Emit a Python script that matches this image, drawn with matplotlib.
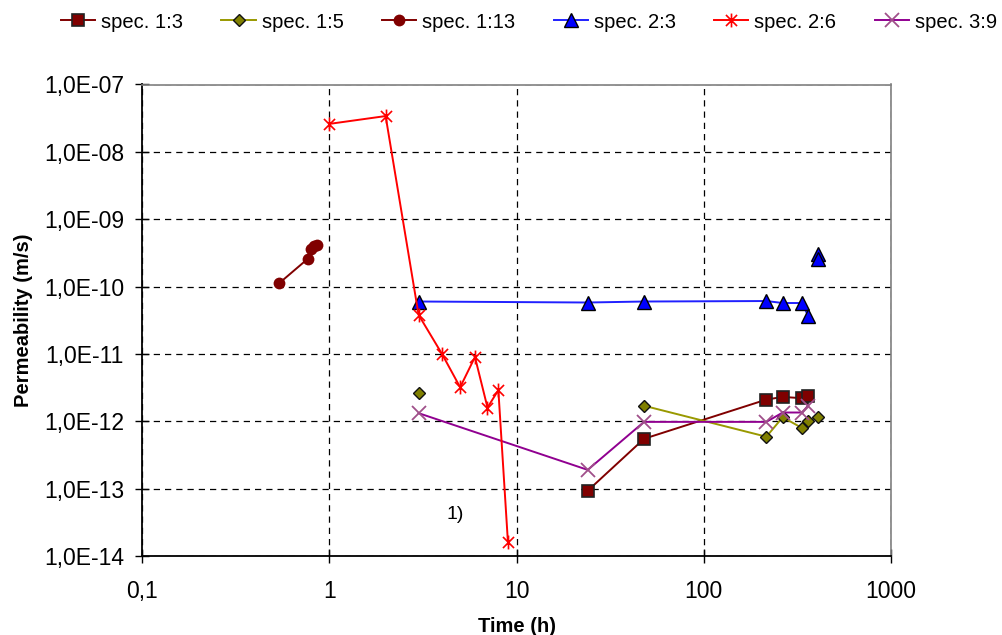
import matplotlib
matplotlib.use("Agg")
import matplotlib.pyplot as plt
import numpy as np
from matplotlib.path import Path
from matplotlib.ticker import FixedLocator, FixedFormatter, NullLocator

plt.rcParams['font.family'] = ['Liberation Sans', 'DejaVu Sans']

# ---- data ----
s13_x = [24, 48, 216, 264, 336, 360]
s13_y = [9.3e-14, 5.5e-13, 2.1e-12, 2.3e-12, 2.2e-12, 2.4e-12]

s15_x = [3, np.nan, 48, 216, 264, 336, 360, 408]
s15_y = [2.6e-12, np.nan, 1.7e-12, 5.9e-13, 1.15e-12, 7.9e-13, 1.02e-12, 1.15e-12]

s113_x = [0.54, 0.77, 0.80, 0.83, 0.86]
s113_y = [1.12e-10, 2.6e-10, 3.6e-10, 4.0e-10, 4.2e-10]

s23_x = [3, 24, 48, 216, 264, 336, 360, np.nan, 408, 408]
s23_y = [6.0e-11, 5.8e-11, 6.0e-11, 6.1e-11, 5.7e-11, 5.7e-11, 3.7e-11, np.nan, 3.0e-10, 2.6e-10]

s26_x = [1, 2, 3, 4, 5, 6, 7, 8, 9]
s26_y = [2.6e-8, 3.4e-8, 3.8e-11, 1.0e-11, 3.2e-12, 9.0e-12, 1.6e-12, 2.9e-12, 1.6e-14]

s39_x = [3, 24, 48, 216, 264, 336, 360]
s39_y = [1.32e-12, 1.9e-13, 9.8e-13, 9.8e-13, 1.35e-12, 1.35e-12, 1.7e-12]

labels = ["spec. 1:3", "spec. 1:5", "spec. 1:13", "spec. 2:3", "spec. 2:6", "spec. 3:9"]
x_ticks = [0.1, 1, 10, 100, 1000]
x_tick_labels = ["0,1", "1", "10", "100", "1000"]
y_exps = [-14, -13, -12, -11, -10, -9, -8, -7]

# asterisk marker (x with vertical bar)
ast = Path([(-1, -1), (1, 1), (-1, 1), (1, -1), (0, -1.25), (0, 1.25)],
           [Path.MOVETO, Path.LINETO, Path.MOVETO, Path.LINETO, Path.MOVETO, Path.LINETO])

fig = plt.figure(figsize=(10.02, 6.35), dpi=100)
ax = fig.add_axes([142/1002, 1-556/635, (891-142)/1002, (556-84.5)/635])

ax.plot(s13_x, s13_y, color='#800000', lw=1.4, marker='s', ms=8.5,
        mfc='#800000', mec='#222222', mew=1.2, label=labels[0], zorder=4)
ax.plot(s15_x, s15_y, color='#999900', lw=1.4, marker='D', ms=6.5,
        mfc='#808000', mec='#111111', mew=1.0, label=labels[1], zorder=4)
ax.plot(s113_x, s113_y, color='#800000', lw=1.4, marker='o', ms=8.5,
        mfc='#800000', mec='#800000', mew=0, label=labels[2], zorder=4)
ax.plot(s23_x, s23_y, color='#2020ff', lw=1.4, marker='^', ms=9.5,
        mfc='#0000ff', mec='#000000', mew=1.0, label=labels[3], zorder=4)
ax.plot(s26_x, s26_y, color='#ff0000', lw=1.4, marker=ast, ms=10,
        mfc='none', mec='#ff0000', mew=1.2, label=labels[4], zorder=5)
ax.plot(s39_x, s39_y, color='#900090', lw=1.4, marker='x', ms=10,
        mfc='none', mec='#a0508a', mew=1.3, label=labels[5], zorder=4)

ax.set_xscale('log')
ax.set_yscale('log')
ax.set_xlim(0.1, 1000)
ax.set_ylim(1e-14, 1e-7)

ax.xaxis.set_major_locator(FixedLocator(x_ticks))
ax.xaxis.set_major_formatter(FixedFormatter(x_tick_labels))
ax.xaxis.set_minor_locator(NullLocator())
yt = [10.0**e for e in y_exps]
ax.yaxis.set_major_locator(FixedLocator(yt))
ax.yaxis.set_major_formatter(FixedFormatter([f"1,0E-{abs(e):02d}" for e in y_exps]))
ax.yaxis.set_minor_locator(NullLocator())

ax.tick_params(axis='both', which='major', labelsize=16.5, direction='inout',
               length=10, width=1.0, color='black')
ax.tick_params(axis='x', pad=12)
ax.tick_params(axis='y', pad=8)

ax.grid(True, which='major', color='#000000', linestyle=(0, (5, 4)), linewidth=0.9)
ax.set_axisbelow(True)

for side in ['top', 'right']:
    ax.spines[side].set_color('#808080')
    ax.spines[side].set_linewidth(1.2)
for side in ['left', 'bottom']:
    ax.spines[side].set_color('#000000')
    ax.spines[side].set_linewidth(1.3)

ax.set_xlabel("Time (h)", fontsize=14.5, fontweight='bold', labelpad=10)
ax.set_ylabel("Permeability (m/s)", fontsize=14.5, fontweight='bold', labelpad=8)

ax.text(4.7, 4.1e-14, "1)", fontsize=14, ha='center', va='center')

handles, labs = ax.get_legend_handles_labels()
fig.legend(handles, labs, loc='center', bbox_to_anchor=(529/1002, 1-22/635),
           ncol=6, frameon=False, fontsize=14.5, handlelength=1.7,
           handletextpad=0.3, columnspacing=1.9, borderaxespad=0, borderpad=0)

fig.savefig("out.png", dpi=100)
